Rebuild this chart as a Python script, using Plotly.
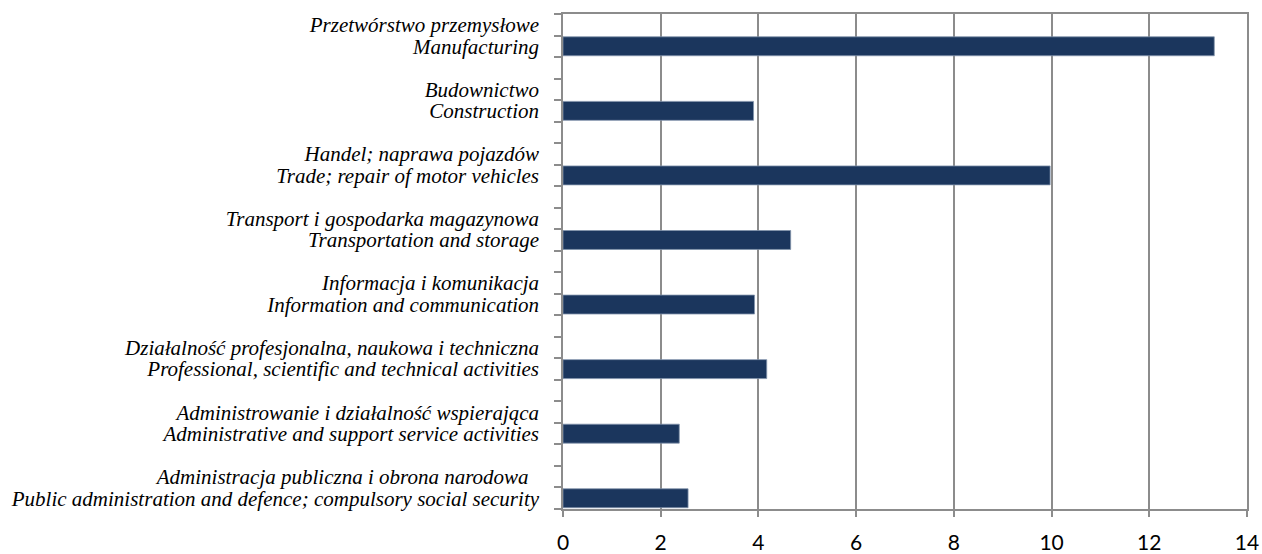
import plotly.graph_objects as go

# Data
labels_pl = [
    "Przetwórstwo przemysłowe",
    "Budownictwo",
    "Handel; naprawa pojazdów",
    "Transport i gospodarka magazynowa",
    "Informacja i komunikacja",
    "Działalność profesjonalna, naukowa i techniczna",
    "Administrowanie i działalność wspierająca",
    "Administracja publiczna i obrona narodowa\u00a0\u00a0",
]
labels_en = [
    "Manufacturing",
    "Construction",
    "Trade; repair of motor vehicles",
    "Transportation and storage",
    "Information and communication",
    "Professional, scientific and technical activities",
    "Administrative and support service activities",
    "Public administration and defence; compulsory social security",
]
values = [13.33, 3.90, 9.97, 4.66, 3.92, 4.17, 2.38, 2.56]
x_ticks = [0, 2, 4, 6, 8, 10, 12, 14]

# Each category occupies 3 slots: Polish label, English label + bar, blank
n = len(values)
n_slots = 3 * n - 1
bar_y = [3 * i + 1 for i in range(n)]
tickvals, ticktext = [], []
for i in range(n):
    tickvals += [3 * i, 3 * i + 1]
    ticktext += [labels_pl[i], labels_en[i]]
boundaries = [s - 0.5 for s in range(n_slots + 1)]

GRID = "#8c8c8c"
SERIF = "'Liberation Serif', 'Times New Roman', Times, serif"

fig = go.Figure(
    go.Bar(
        x=values,
        y=bar_y,
        orientation="h",
        width=0.88,
        marker=dict(color="#1b365d", line=dict(color="#8193ab", width=0.8)),
        hoverinfo="x",
    )
)

fig.update_layout(
    width=1262,
    height=554,
    margin=dict(l=563, r=15, t=14, b=45, autoexpand=False),
    plot_bgcolor="white",
    paper_bgcolor="white",
    showlegend=False,
    xaxis=dict(
        range=[0, 14],
        tickmode="array",
        tickvals=x_ticks,
        showgrid=True,
        gridcolor=GRID,
        gridwidth=1.5,
        showline=True,
        linecolor=GRID,
        linewidth=1.5,
        mirror=True,
        ticks="outside",
        ticklen=6,
        tickwidth=1.5,
        tickcolor=GRID,
        zeroline=False,
        automargin=False,
        ticklabelstandoff=8,
        tickfont=dict(family="Lato", size=21, color="black"),
    ),
    yaxis=dict(
        range=[n_slots - 0.5, -0.5],
        tickmode="array",
        tickvals=tickvals,
        ticktext=ticktext,
        ticks="",
        showgrid=False,
        showline=True,
        linecolor=GRID,
        linewidth=1.5,
        mirror=True,
        zeroline=False,
        automargin=False,
        ticklabelstandoff=18,
        minor=dict(
            tickmode="array",
            tickvals=boundaries,
            ticks="outside",
            ticklen=7,
            tickwidth=1.5,
            tickcolor=GRID,
            showgrid=False,
        ),
        tickfont=dict(family=SERIF, size=21, color="black", style="italic"),
    ),
)

fig.write_html(
    "out.html",
    config={"displayModeBar": False},
    post_script="document.body.style.margin='0';",
)
